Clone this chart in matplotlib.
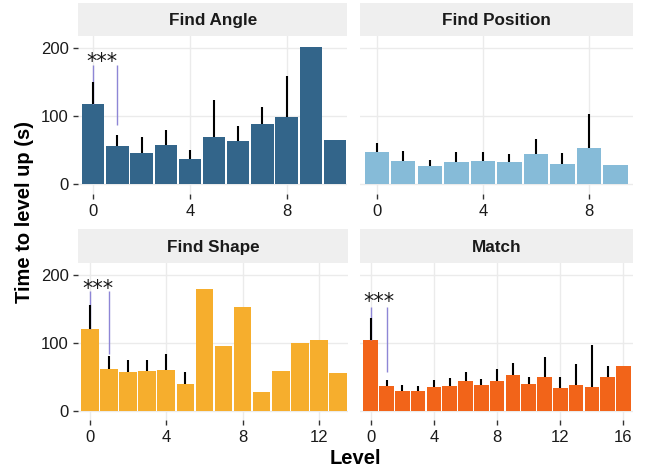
import numpy as np
import matplotlib
matplotlib.use("Agg")
import matplotlib.pyplot as plt

plt.rcParams['font.family'] = ['Liberation Sans', 'DejaVu Sans']

nan = np.nan
panel_titles = ["Find Angle", "Find Position", "Find Shape", "Match"]
panel_colors = ["#33658A", "#86BBD8", "#F6AE2D", "#F26419"]

angle_vals = [117.6, 56.0, 45.6, 57.4, 36.8, 69.6, 63.2, 88.2, 98.5, 201.5, 64.7]
angle_err_top = [150, 72.5, 69.6, 79.9, 50.5, 124, 85.3, 113.7, 158.3, nan, nan]

position_vals = [47.0, 33.8, 26.5, 32.4, 33.8, 32.4, 44.0, 29.4, 52.9, 27.9]
position_err_top = [59.8, 48.0, 35.3, 47.0, 47.5, 44.6, 66.7, 46.0, 103.4, nan]

shape_vals = [119.8, 61.1, 57.2, 58.2, 59.7, 39.1, 179.0, 94.9, 152.6, 27.9, 58.7, 99.8, 104.2, 55.7]
shape_err_top = [156, 80.2, 74.8, 74.8, 84.1, 57.2, nan, nan, nan, nan, nan, nan, nan, nan]

match_vals = [104.2, 36.4, 29.0, 29.0, 34.9, 36.4, 44.2, 37.8, 44.2, 52.6, 39.3, 49.6, 33.4, 37.8, 34.9, 49.6, 65.8]
match_err_top = [137, 45.2, 37.8, 36.4, 45.2, 48.2, 57.0, 46.7, 60.9, 70.8, 50.1, 79.6, 49.6, 68.3, 96.3, 65.8, nan]

# significance annotation: (line top, bar-1 line bottom, star height); None = no annotation
sig_angle = (175, 86, 180)
sig_position = None
sig_shape = (177, 83, 180)
sig_match = (153, 57, 160)

panel_vals = [angle_vals, position_vals, shape_vals, match_vals]
panel_errs = [angle_err_top, position_err_top, shape_err_top, match_err_top]
panel_sigs = [sig_angle, sig_position, sig_shape, sig_match]
panel_xticks = [[0, 4, 8], [0, 4, 8], [0, 4, 8, 12], [0, 4, 8, 12, 16]]
y_ticks = [0, 100, 200]

W, H = 649, 473
fig = plt.figure(figsize=(W / 100, H / 100), dpi=100)

# pixel geometry: (left, right, strip_top, panel_top, panel_bottom)
geo = [
    (78.3, 347.5, 3.3, 36.0, 193.7),
    (360.0, 632.5, 3.3, 36.0, 193.7),
    (78.3, 348.3, 229.3, 263.0, 420.4),
    (360.0, 632.5, 229.3, 263.0, 420.4),
]
xlims = [(-0.62, 10.52), (-0.63, 9.64), (-0.61, 13.54), (-0.68, 16.57)]
ylim = (-14.3, 217.6)

grid_c = "#EBEBEB"
tick_c = "#333333"

for i in range(4):
    l, r, st, pt, pb = geo[i]
    ax = fig.add_axes([l / W, 1 - pb / H, (r - l) / W, (pb - pt) / H])
    sax = fig.add_axes([l / W, 1 - pt / H, (r - l) / W, (pt - st) / H])
    sax.set_facecolor("#EFEFEF")
    sax.set_xticks([]); sax.set_yticks([])
    for s in sax.spines.values():
        s.set_visible(False)
    sax.text(0.5, 0.47, panel_titles[i], ha="center", va="center",
             fontsize=12.3, fontweight="bold", color="#1a1a1a", transform=sax.transAxes)

    vals = panel_vals[i]
    errs = panel_errs[i]
    x = np.arange(len(vals))
    ax.set_axisbelow(True)
    ax.grid(True, color=grid_c, lw=1.0)
    ax.bar(x, vals, width=0.92, color=panel_colors[i], zorder=2)

    sig = panel_sigs[i]
    if sig is not None:
        top, b1, sy = sig
        ax.vlines([0], vals[0], top, color="#8E86D6", lw=1.0, zorder=3)
        ax.vlines([1], b1, top, color="#8E86D6", lw=1.0, zorder=3)
        ax.annotate("***", xy=(0, sy), xytext=(6.0, 0), textcoords="offset points",
                    ha="center", va="center", fontsize=15, color="#1a1a1a",
                    family="DejaVu Sans", zorder=5)

    e = np.array(errs, dtype=float)
    v = np.array(vals, dtype=float)
    m = ~np.isnan(e)
    ax.vlines(x[m], v[m], e[m], color="black", lw=1.5, zorder=4)

    ax.set_xlim(*xlims[i])
    ax.set_ylim(*ylim)
    ax.set_xticks(panel_xticks[i])
    ax.set_yticks(y_ticks)
    if i in (1, 3):
        ax.set_yticklabels([])
        ax.tick_params(axis="y", length=0)
    for s in ax.spines.values():
        s.set_visible(False)
    ax.tick_params(axis="both", colors=tick_c, labelcolor="#1a1a1a",
                   labelsize=12, width=1.0)
    ax.tick_params(axis="x", length=3.6, pad=3.5)
    if i in (0, 2):
        ax.tick_params(axis="y", length=3.3, pad=3.5)

fig.text(24 / W, 1 - 212 / H, "Time to level up (s)", rotation=90, ha="center",
         va="center", fontsize=14.5, fontweight="bold", color="black")
fig.text(355.5 / W, 1 - 458 / H, "Level", ha="center", va="center",
         fontsize=14.5, fontweight="bold", color="black")

fig.savefig("out.png", dpi=100)
